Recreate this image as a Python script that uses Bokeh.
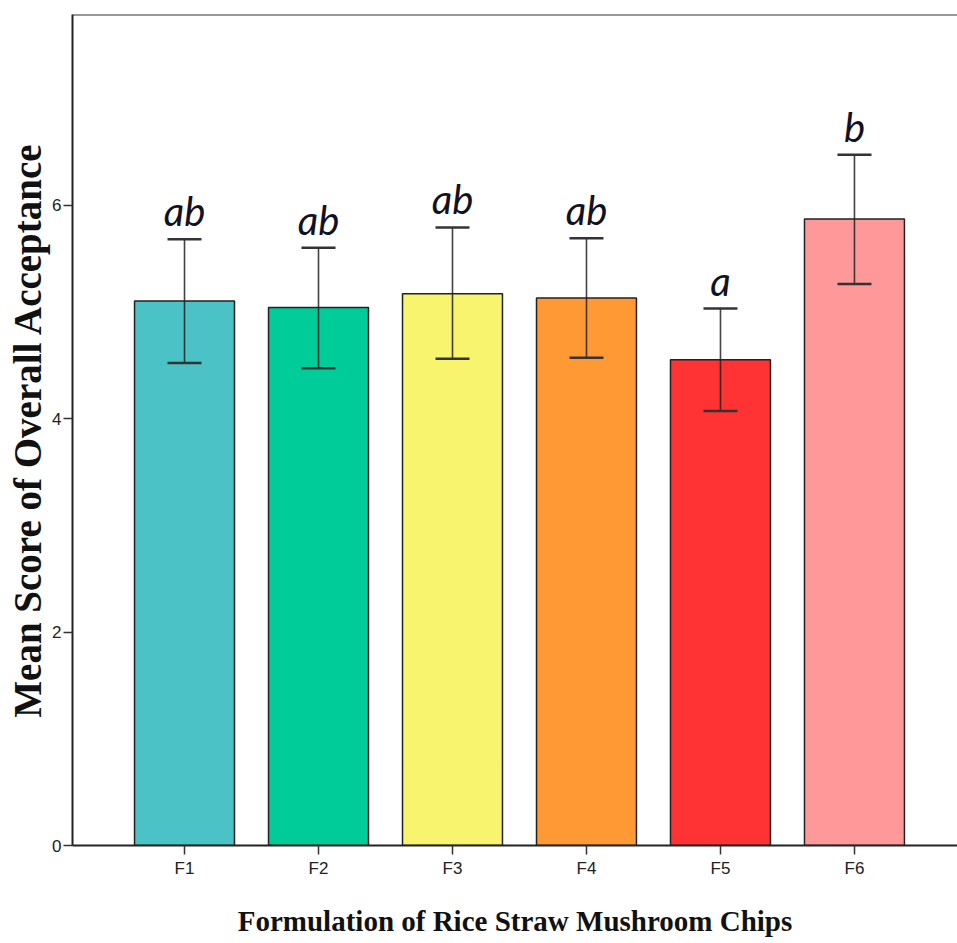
from bokeh.plotting import figure
from bokeh.models import ColumnDataSource, Range1d, FixedTicker, Whisker, Span
from bokeh.core.properties import value
from bokeh.embed import file_html
from bokeh.resources import INLINE

categories = ["F1", "F2", "F3", "F4", "F5", "F6"]
means = [5.10, 5.04, 5.17, 5.13, 4.55, 5.87]
upper = [5.68, 5.60, 5.79, 5.69, 5.03, 6.47]
lower = [4.52, 4.47, 4.56, 4.57, 4.07, 5.26]
letters = ["ab", "ab", "ab", "ab", "a", "b"]
colors = ["#4BC3C6", "#00CC99", "#F8F46E", "#FF9933", "#FF3333", "#FF9999"]

xpos = list(range(1, len(categories) + 1))
src = ColumnDataSource(dict(x=xpos, top=means, upper=upper, lower=lower,
                            letters=letters, color=colors))

YMAX = 7.785
p = figure(width=957, height=943, output_backend="svg", toolbar_location=None,
           x_range=Range1d(0.164, 6.769), y_range=Range1d(0, YMAX),
           min_border_left=72, min_border_right=0, min_border_top=14,
           min_border_bottom=98)
p.outline_line_color = None
p.grid.visible = False
p.background_fill_color = "white"

p.vbar(x="x", top="top", bottom=0, width=0.746, fill_color="color",
       line_color="#222222", line_width=1.5, source=src)

w = Whisker(base="x", upper="upper", lower="lower", source=src,
            line_color="#222222", line_width=1.6, line_alpha=0.85,
            level="overlay")
w.upper_head.size = 34
w.lower_head.size = 34
w.upper_head.line_color = "#333333"
w.lower_head.line_color = "#333333"
w.upper_head.line_width = 2.5
w.lower_head.line_width = 2.5
p.add_layout(w)

p.text(x="x", y="upper", text="letters", source=src, text_align="center",
       text_baseline="bottom", y_offset=-4, text_font=value("Lato"),
       text_font_style="italic", text_font_size="40px", text_color="#111122")

p.add_layout(Span(location=YMAX, dimension="width", line_color="#333333",
                  line_width=2))

p.xaxis.ticker = FixedTicker(ticks=xpos)
p.xaxis.major_label_overrides = {x: c for x, c in zip(xpos, categories)}
p.yaxis.ticker = FixedTicker(ticks=[0, 2, 4, 6])

for ax in (p.xaxis, p.yaxis):
    ax.axis_line_color = "#222222"
    ax.axis_line_width = 2
    ax.major_tick_line_color = "#333333"
    ax.major_tick_line_width = 1.5
    ax.major_tick_in = 0
    ax.major_tick_out = 9
    ax.minor_tick_line_color = None
    ax.major_label_text_font = "Liberation Sans"
    ax.major_label_text_font_size = "17px"
    ax.major_label_text_color = "#222222"
    ax.axis_label_text_font = "Liberation Serif"
    ax.axis_label_text_font_style = "bold"
    ax.axis_label_text_color = "#111111"

p.xaxis.axis_label_text_font_size = "29px"
p.yaxis.axis_label_text_font_size = "39px"
p.xaxis.major_label_standoff = 4
p.yaxis.major_label_standoff = 2
p.xaxis.axis_label = "Formulation of Rice Straw Mushroom Chips"
p.yaxis.axis_label = "Mean Score of Overall Acceptance"
p.xaxis.axis_label_standoff = 24
p.yaxis.axis_label_standoff = 0

open("out.html", "w").write(file_html(p, INLINE))
